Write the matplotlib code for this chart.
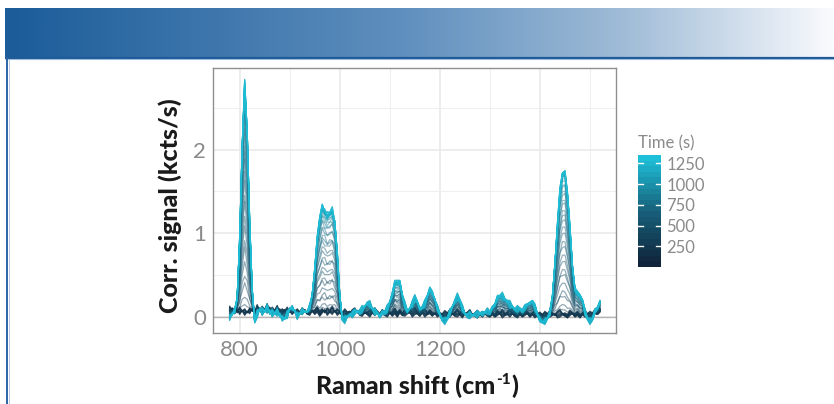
import numpy as np
import matplotlib
matplotlib.use("Agg")
import matplotlib.pyplot as plt
from matplotlib.colors import LinearSegmentedColormap, ListedColormap, Normalize
import matplotlib.colorbar as mcolorbar

# ---------------- data ----------------
raman_shift = np.arange(780, 1521, 5)  # cm-1 sampling axis

# final (saturated) net signal above the baseline, kcts/s
peak_signal = [
    -0.10, -0.06, 0.00, 0.15, 0.85, 1.95, 2.74, 2.15, 1.05, 0.24, -0.10,
    -0.06, 0.00, -0.01, -0.02, 0.00, -0.03, -0.02, -0.04, -0.03, -0.05, -0.08, -0.10, -0.04,
    0.03, 0.05, 0.01, -0.04, -0.02, 0.00, -0.01, 0.02, 0.06, 0.20,
    0.50, 0.85, 1.13, 1.25, 1.20, 1.15, 1.17, 1.19, 1.07, 0.70, 0.20,
    -0.06, -0.08, -0.05, -0.03, -0.02, -0.01, 0.00, 0.01, 0.04, 0.08,
    0.12, 0.11, 0.05, 0.00, -0.01, -0.02, -0.01, 0.01, 0.05, 0.13,
    0.23, 0.33, 0.38, 0.35, 0.23, 0.09, 0.01, 0.05, 0.11, 0.15,
    0.13, 0.07, 0.05, 0.11, 0.21, 0.27, 0.25, 0.17, 0.07, -0.01,
    -0.06, -0.08, -0.06, 0.01, 0.09, 0.15, 0.19, 0.16, 0.07, 0.00,
    -0.02, -0.02, -0.01, 0.00, 0.00, 0.01, 0.01, 0.01, 0.02, 0.03,
    0.07, 0.13, 0.18, 0.21, 0.21, 0.18, 0.14, 0.10, 0.08, 0.07,
    0.06, 0.06, 0.05, 0.06, 0.10, 0.15, 0.15, 0.08, 0.00, -0.06,
    -0.09, -0.08, -0.05, 0.01, 0.21, 0.61, 1.06, 1.46, 1.68, 1.70,
    1.46, 1.01, 0.56, 0.31, 0.24, 0.24, 0.16, 0.02, -0.05, -0.08,
    -0.06, 0.01, 0.06, 0.10,
]

# two noisy baseline traces read from the early (dark) spectra
baseline_a = [
    0.13, 0.08, 0.11, 0.05, 0.12, 0.07, 0.10, 0.05, 0.11, 0.08, 0.06,
    0.15, 0.07, 0.13, 0.09, 0.16, 0.06, 0.12, 0.08, 0.14, 0.05, 0.10, 0.07, 0.12, 0.06,
    0.09, 0.05, 0.10, 0.06, 0.11, 0.07, 0.04, 0.10, 0.06, 0.09, 0.12, 0.07, 0.10, 0.05, 0.11, 0.08, 0.13, 0.06, 0.10, 0.07,
    0.05, 0.10, 0.06, 0.04, 0.09, 0.11, 0.05, 0.08, 0.10, 0.04, 0.06, 0.09, 0.05, 0.11, 0.07, 0.04, 0.09, 0.06, 0.10, 0.05,
    0.07, 0.11, 0.06, 0.09, 0.04, 0.10, 0.07, 0.05, 0.09, 0.12, 0.06, 0.04, 0.08, 0.10, 0.05, 0.09, 0.06, 0.03, 0.08, 0.05,
    0.04, 0.08, 0.05, 0.09, 0.03, 0.06, 0.10, 0.05, 0.08, 0.04, 0.06, 0.09, 0.03, 0.05, 0.08, 0.04, 0.06, 0.05, 0.09, 0.04,
    0.06, 0.03, 0.08, 0.05, 0.09, 0.04, 0.06, 0.10, 0.05, 0.03, 0.08, 0.05, 0.04, 0.09, 0.06, 0.03, 0.05, 0.08, 0.04, 0.06,
    0.03, 0.07, 0.04, 0.08, 0.05, 0.02, 0.07, 0.09, 0.04, 0.05, 0.03, 0.08, 0.05, 0.04, 0.07, 0.03, 0.05, 0.08, 0.04, 0.07,
    0.05, 0.09, 0.06, 0.10,
]
baseline_b = [
    0.06, 0.11, 0.04, 0.10, 0.03, 0.08, 0.02, 0.07, 0.04, 0.10, 0.03,
    0.05, 0.11, 0.03, 0.09, 0.05, 0.12, 0.02, 0.08, 0.04, 0.10, 0.03, 0.09, 0.02, 0.08,
    0.03, 0.08, 0.01, 0.06, 0.03, 0.09, 0.04, 0.02, 0.08, 0.03, 0.06, 0.01, 0.05, 0.09, 0.02, 0.06, 0.03, 0.08, 0.02, 0.05,
    0.02, 0.00, 0.05, 0.07, 0.01, 0.04, 0.08, 0.02, 0.01, 0.06, 0.03, 0.00, 0.05, 0.02, 0.06, 0.01, 0.04, 0.02, 0.00, 0.05,
    0.01, 0.04, 0.00, 0.05, 0.02, 0.01, 0.04, 0.06, 0.00, 0.03, 0.04, 0.01, 0.05, 0.00, 0.03, 0.04, 0.01, 0.05, 0.00, 0.03,
    0.01, -0.01, 0.03, 0.00, 0.04, 0.01, 0.00, 0.03, -0.01, 0.04, 0.01, 0.00, 0.03, 0.01, -0.01, 0.03, 0.00, 0.04, 0.01, 0.00,
    0.03, 0.00, 0.02, 0.04, -0.01, 0.02, 0.03, 0.00, 0.04, 0.01, -0.01, 0.03, 0.00, 0.02, 0.04, 0.00, 0.03, -0.01, 0.02, 0.00,
    0.02, -0.01, 0.03, 0.00, 0.02, 0.04, -0.01, 0.00, 0.03, 0.01, -0.01, 0.02, 0.04, 0.00, 0.02, -0.01, 0.03, 0.00, 0.02, -0.01,
    0.02, 0.04, 0.03, 0.06,
]

# acquisition times (s)
times = list(range(0, 1351, 30))
# fraction of final signal reached at each time
growth = [0, 0, 0, 0, 0, 0, 0, 0, 0, 0,
          0.03, 0.07, 0.12, 0.17, 0.22, 0.27, 0.32, 0.37, 0.42, 0.47,
          0.52, 0.57, 0.62, 0.66, 0.70, 0.74, 0.78, 0.81, 0.84, 0.87,
          0.90, 0.92, 0.94, 0.96, 0.97, 0.98, 0.99, 0.99, 1.0, 1.0,
          1.0, 1.0, 1.0, 1.0, 1.0, 1.0]
# share of baseline trace A in each spectrum's noise
noise_mix = [0.0, 0.3, 0.7, 1.0, 0.5, 0.2, 0.8, 0.4, 0.9, 0.1,
             0.6, 0.3, 0.8, 0.0, 0.5, 1.0, 0.2, 0.7, 0.4, 0.9,
             0.1, 0.6, 0.3, 0.8, 0.5, 0.0, 0.7, 0.2, 1.0, 0.4,
             0.9, 0.1, 0.6, 0.3, 0.8, 0.5, 0.2, 0.7, 0.0, 1.0,
             0.4, 0.9, 0.3, 0.6, 0.1, 0.8]

xticks = [800, 1000, 1200, 1400]
yticks = [0, 1, 2]
cbar_ticks = [250, 500, 750, 1000, 1250]

# ---------------- style ----------------
W, H = 834, 404
fig = plt.figure(figsize=(W / 100, H / 100), dpi=100)
fig.patch.set_facecolor("white")

# header banner gradient
bg = fig.add_axes([0, 0, 1, 1], zorder=-10)
bg.set_xlim(0, W)
bg.set_ylim(H, 0)
bg.axis("off")
stops = [(0.0, (27, 92, 153)), (0.48, (95, 143, 190)), (0.75, (160, 188, 215)), (1.0, (249, 250, 253))]
grad_cmap = LinearSegmentedColormap.from_list(
    "hdr", [(p, tuple(c / 255 for c in col)) for p, col in stops])
grad = np.linspace(0, 1, 600).reshape(1, -1)
bg.imshow(grad, cmap=grad_cmap, extent=[5, W, 57, 8], aspect="auto", interpolation="bilinear")
bg.plot([5, W], [57.5, 57.5], color="#1f5a98", lw=1.6, solid_capstyle="butt")
bg.plot([5, W], [59, 59], color="#9dbbdc", lw=0.8, solid_capstyle="butt")
bg.plot([7.5, 7.5], [57, H], color="#2a64a4", lw=1.4, solid_capstyle="butt")
bg.plot([8.8, 8.8], [59, H], color="#a8c3e0", lw=0.6, solid_capstyle="butt")

# colormap for time
time_cmap = LinearSegmentedColormap.from_list("time", ["#10233a", "#17607a", "#1ec0d8"])
tnorm = Normalize(vmin=0, vmax=1350)

ax = fig.add_axes([213 / W, (H - 333) / H, 403 / W, 265 / H])
ax.set_facecolor("white")

peak_arr = np.array(peak_signal)
ba = np.array(baseline_a)
bb = np.array(baseline_b)
ax.axhline(0, color="#b5b5b5", lw=1.0, zorder=1)
for t, f, w in zip(times, growth, noise_mix):
    y = w * ba + (1 - w) * bb + f * peak_arr
    col = time_cmap(tnorm(t))
    alpha = 0.75 if f >= 0.97 else (0.7 if f == 0 else 0.45)
    ax.plot(raman_shift, y, color=col, lw=0.9, alpha=alpha, zorder=2)

ax.set_xlim(746.7, 1552)
ax.set_ylim(-0.19, 2.975)
ax.set_xticks(xticks)
ax.set_xticks([900, 1100, 1300, 1500], minor=True)
ax.set_yticks(yticks)
ax.set_yticks([0.5, 1.5, 2.5], minor=True)
ax.grid(True, which="major", color="#e8e8e8", lw=1.1, zorder=0)
ax.grid(True, which="minor", color="#efefef", lw=0.7, zorder=0)
ax.set_axisbelow(True)
for s in ax.spines.values():
    s.set_color("#8f8f8f")
    s.set_linewidth(1.0)
ax.tick_params(which="both", length=0, pad=5, labelsize=16, labelcolor="#8a8a8a")
for lab in ax.get_xticklabels() + ax.get_yticklabels():
    lab.set_fontfamily("Lato")

ax.set_ylabel("Corr. signal (kcts/s)", fontfamily="Lato", fontweight="black",
              fontsize=18, color="#1a1a1a")
ax.yaxis.set_label_coords(-0.107, 0.48)
ax.yaxis.label.set_va("center")

# x-axis title with small raised "-1"
fig.canvas.draw()
renderer = fig.canvas.get_renderer()
lab_kw = dict(fontfamily="Lato", fontweight="black", color="#1a1a1a")
ty = 1 - 386 / H
p1 = fig.text(0, ty, "Raman shift (cm", fontsize=18, va="center", ha="left", **lab_kw)
p2 = fig.text(0, ty + 6 / H, "-1", fontsize=11, va="center", ha="left", **lab_kw)
p3 = fig.text(0, ty, ")", fontsize=18, va="center", ha="left", **lab_kw)
w1 = p1.get_window_extent(renderer).width
w2 = p2.get_window_extent(renderer).width
w3 = p3.get_window_extent(renderer).width
total = w1 + w2 + w3 + 1
x0 = 417 - total / 2
p1.set_x(x0 / W)
p2.set_x((x0 + w1 + 0.5) / W)
p3.set_x((x0 + w1 + w2 + 1) / W)

# colorbar (stepped)
cax = fig.add_axes([638 / W, (H - 267) / H, 23 / W, 112 / H])
step_cmap = ListedColormap([time_cmap(v) for v in np.linspace(0, 1, 20)])
cb = mcolorbar.ColorbarBase(cax, cmap=step_cmap, norm=tnorm, orientation="vertical")
cb.outline.set_visible(False)
cb.set_ticks(cbar_ticks)
cb.ax.tick_params(length=0, pad=4, labelsize=12, labelcolor="#8a8a8a")
for lab in cb.ax.get_yticklabels():
    lab.set_fontfamily("Lato")
for t in cbar_ticks:
    cax.plot([0, 0.2], [t, t], color="white", lw=1.0)
    cax.plot([0.8, 1.0], [t, t], color="white", lw=1.0)
cax.set_xlim(0, 1)
fig.text(638 / W, 1 - 143 / H, "Time (s)", fontfamily="Lato", fontsize=12,
         color="#8a8a8a", ha="left", va="center")

fig.savefig("out.png", dpi=100)
